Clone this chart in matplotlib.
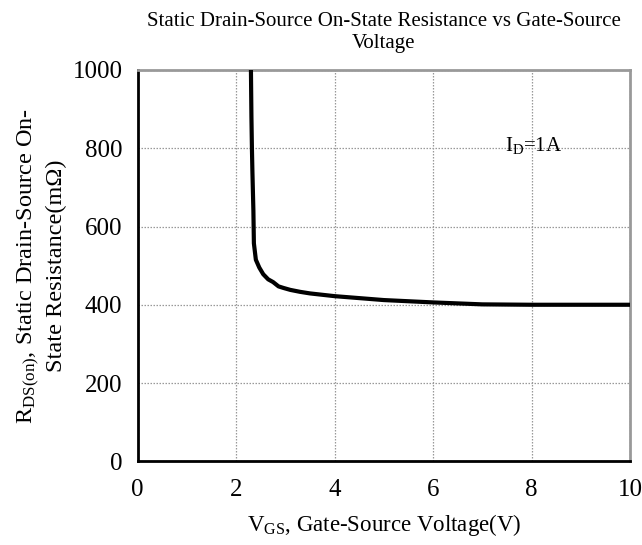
import matplotlib
matplotlib.use("Agg")
import matplotlib.pyplot as plt

plt.rcParams['font.family'] = ['Liberation Serif', 'DejaVu Serif']
plt.rcParams['mathtext.fontset'] = 'custom'
plt.rcParams['mathtext.rm'] = 'Liberation Serif'
plt.rcParams['mathtext.it'] = 'Liberation Serif:italic'
plt.rcParams['mathtext.bf'] = 'Liberation Serif:bold'

vgs = [2.30, 2.31, 2.32, 2.33, 2.35, 2.36, 2.40, 2.47, 2.55, 2.65, 2.75, 2.86, 2.96, 3.1, 3.3, 3.5, 4.0, 4.5, 5.0, 6.0, 7.0, 8.0, 10.0]
rds = [1000, 880, 800, 740, 640, 557, 515, 495, 478, 465, 458, 447, 443, 438, 433, 429, 422, 417, 412, 406, 401, 400, 400]

xticks = [0, 2, 4, 6, 8, 10]
yticks = [0, 200, 400, 600, 800, 1000]

fig = plt.figure(figsize=(6.42, 5.45), dpi=100)
ax = fig.add_axes([0.2145, 0.1536, 0.9813 - 0.2145, 0.8716 - 0.1536])

ax.plot(vgs, rds, color='black', linewidth=3.0, solid_joinstyle='round', zorder=3)

ax.set_xlim(0, 10)
ax.set_ylim(0, 1000)
ax.set_xticks(xticks)
ax.set_yticks(yticks)
ax.tick_params(axis='both', length=0, labelsize=18)
ax.tick_params(axis='x', pad=13)
ax.tick_params(axis='y', pad=11)
ax.grid(True, color='#999999', linestyle=(0, (1.2, 1.2)), linewidth=0.9)

for side in ['top', 'right']:
    ax.spines[side].set_color('#999999')
    ax.spines[side].set_linewidth(2.0)
for side in ['left', 'bottom']:
    ax.spines[side].set_color('black')
    ax.spines[side].set_linewidth(2.0)

ax.set_xlabel('V$_{\\mathregular{GS}}$, Gate-Source Voltage(V)', fontsize=16.5, labelpad=8)
ax.set_ylabel('R$_{\\mathregular{DS(on)}}$, Static Drain-Source On-\nState Resistance(m\u03a9)', fontsize=17.5, labelpad=4)
ax.set_title('Static Drain-Source On-State Resistance vs Gate-Source\nVoltage', fontsize=15, pad=16)

ax.text(7.46, 806, 'I$_{\\mathregular{D}}$=1A', fontsize=15, va='center')

fig.savefig('out.png', dpi=100)
